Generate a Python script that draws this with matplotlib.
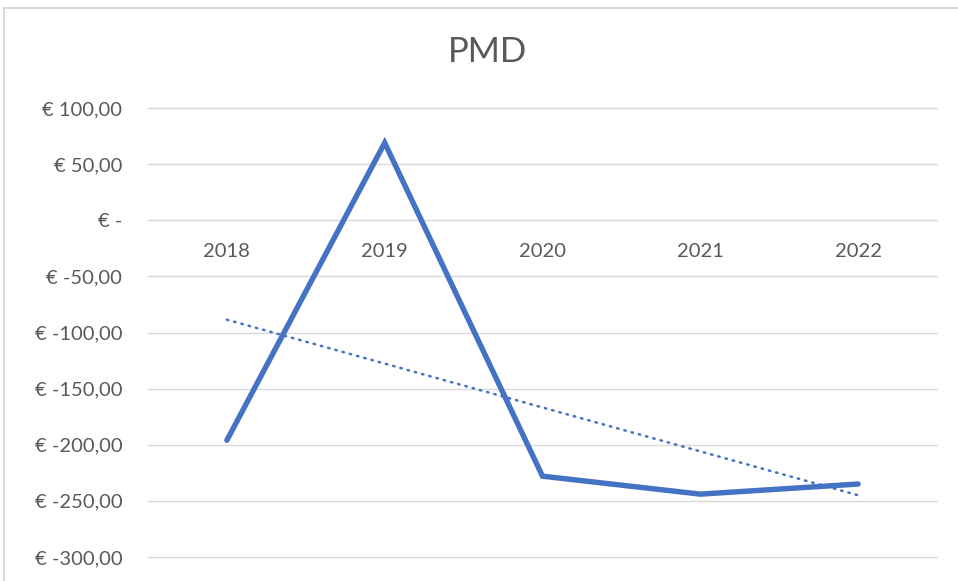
import numpy as np
import matplotlib
matplotlib.use("Agg")
import matplotlib.pyplot as plt
from matplotlib.lines import Line2D

years = ["2018", "2019", "2020", "2021", "2022"]
values = [-196, 69, -228, -244, -235]
yticks = [100, 50, 0, -50, -100, -150, -200, -250, -300]
ytick_labels = ["€ 100,00", "€ 50,00", "€ -", "€ -50,00", "€ -100,00",
                "€ -150,00", "€ -200,00", "€ -250,00", "€ -300,00"]
title = "PMD"

plt.rcParams['font.family'] = ['Lato', 'DejaVu Sans']
W, H = 958, 581
fig = plt.figure(figsize=(W / 100, H / 100), dpi=100)
ax = fig.add_axes([148 / W, 1 - 557 / H, (937 - 148) / W, (557 - 108) / H])

x = np.arange(len(years))
blue = "#4472C4"
ax.plot(x, values, color=blue, lw=3.9, solid_capstyle='round', solid_joinstyle='miter', zorder=3)

coef = np.polyfit(x, values, 1)
trend = np.polyval(coef, x)
ax.plot(x, trend, color=blue, lw=1.8, linestyle=(0, (0.6, 2.4)), dash_capstyle='round', zorder=2)

ax.set_xlim(-0.5, len(years) - 0.5)
ax.set_ylim(-300, 100)
ax.set_yticks(yticks)
ax.set_yticklabels(ytick_labels)
ax.grid(axis='y', color='#D9D9D9', lw=1.0, zorder=0)
for gl in ax.get_ygridlines():
    gl.set_clip_on(False)
ax.set_axisbelow(True)
for s in ax.spines.values():
    s.set_visible(False)
ax.tick_params(axis='y', length=0, pad=18.5, labelsize=14.5, labelcolor='#595959')
ax.set_xticks([])
for xi, lab in zip(x, years):
    ax.annotate(lab, (xi, 0), xytext=(0, -31), textcoords='offset pixels',
                ha='center', va='center', fontsize=14.5, color='#595959')

fig.text(487 / W, 1 - 52 / H, title, ha='center', va='center', fontsize=25, color='#595959')

# chart border (top and left visible)
fig.add_artist(Line2D([4 / W, 1.0], [1 - 8 / H, 1 - 8 / H], color='#D9D9D9', lw=1.5))
fig.add_artist(Line2D([4 / W, 4 / W], [0, 1 - 8 / H], color='#D9D9D9', lw=1.5))

fig.savefig("out.png", dpi=100)
